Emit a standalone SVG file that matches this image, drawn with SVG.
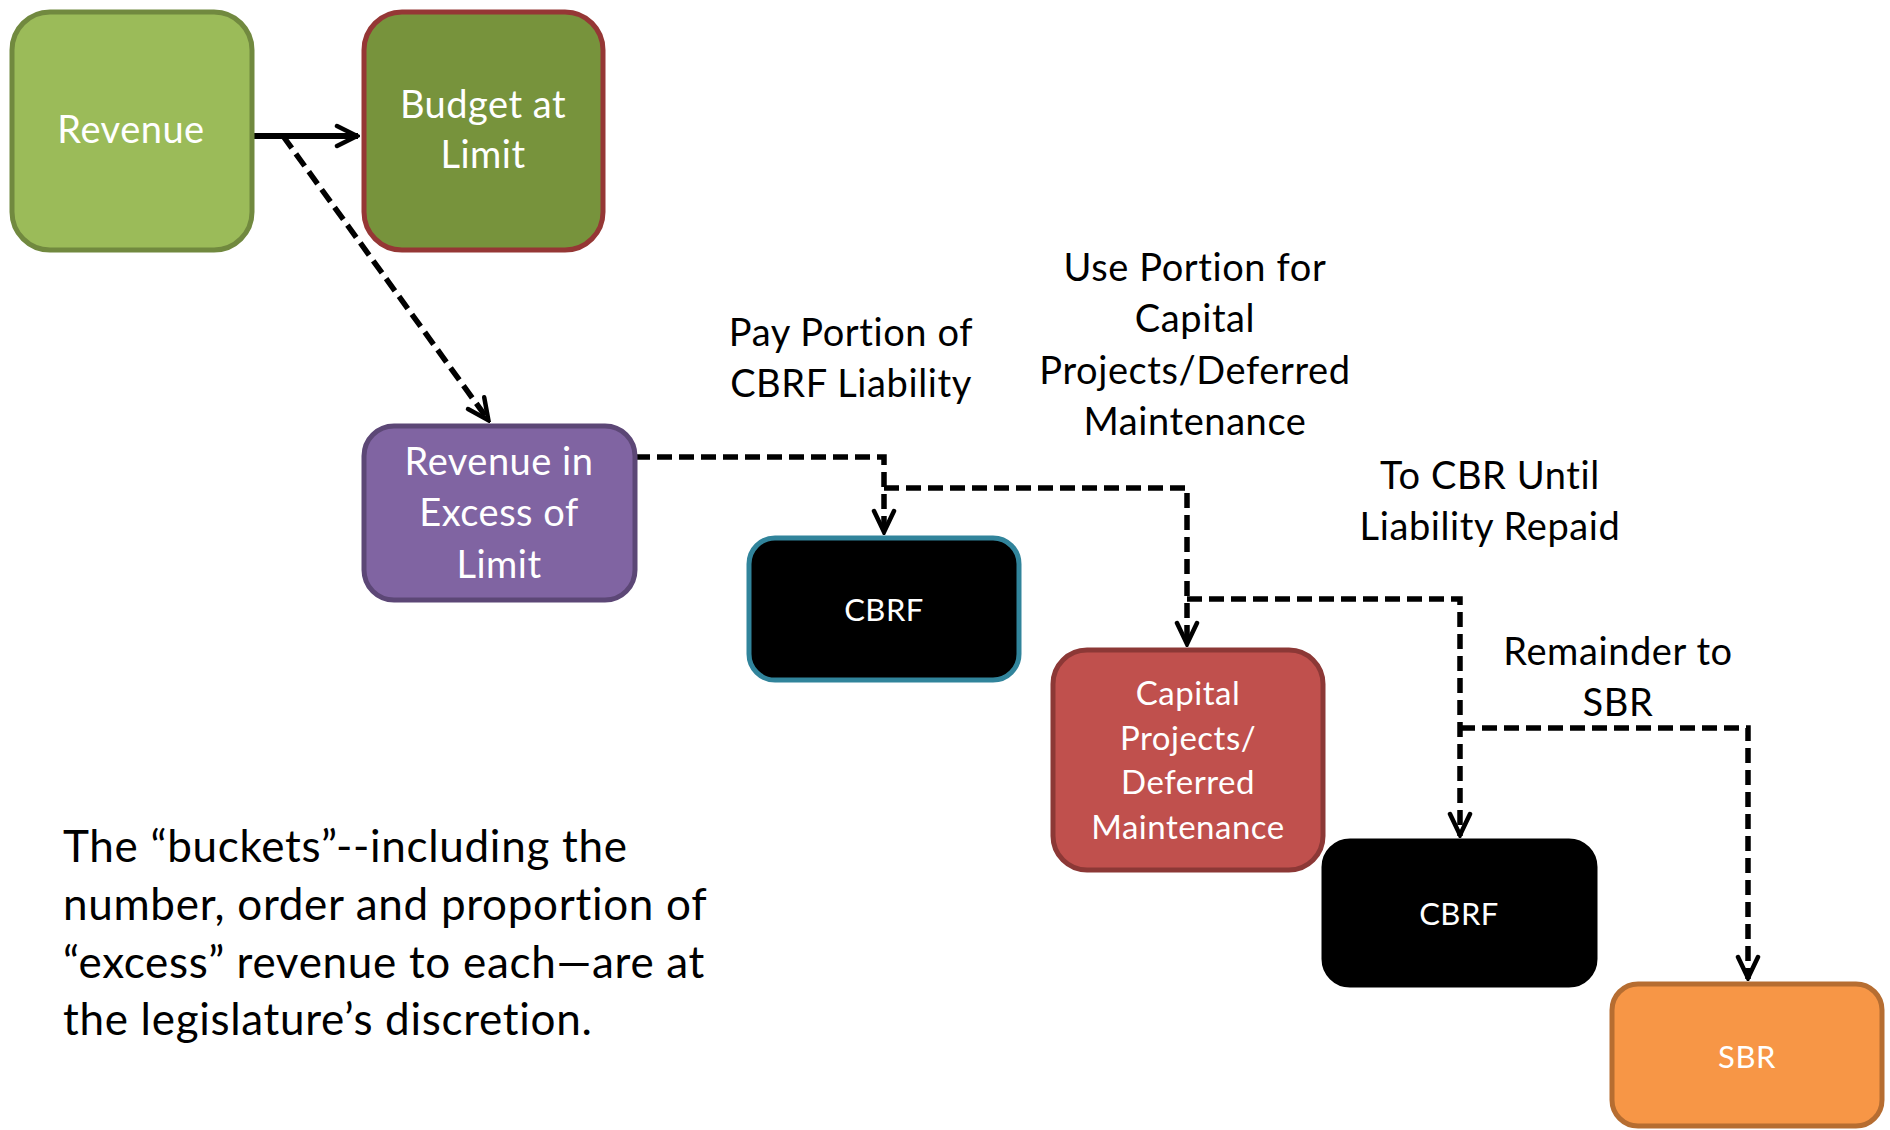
<svg xmlns="http://www.w3.org/2000/svg" width="1890" height="1130" viewBox="0 0 1890 1130">
  <style>
    .box { stroke-width: 5; }
    .nt { font-family: Lato, "Liberation Sans", sans-serif; fill: #ffffff; text-anchor: middle; letter-spacing: 0.5px; }
    .lbl { font-family: Lato, "Liberation Sans", sans-serif; fill: #000000; text-anchor: middle; font-size: 38px; letter-spacing: 0.6px; }
    .note { font-family: Lato, "Liberation Sans", sans-serif; fill: #000000; font-size: 44px; letter-spacing: 0.7px; }
    .solid { fill: none; stroke: #000; stroke-width: 6; }
    .dash { fill: none; stroke: #000; stroke-width: 5.5; stroke-dasharray: 15 7; }
  </style>
  <defs>
    <marker id="arrowL" viewBox="0 0 26 26" refX="24" refY="13" markerWidth="26" markerHeight="26" markerUnits="userSpaceOnUse" orient="auto">
      <path d="M3,3 L23,13 L3,23" fill="none" stroke="#000" stroke-width="4.5" stroke-linecap="round"/>
    </marker>
    <marker id="arrowD" viewBox="0 0 28 28" refX="26" refY="14" markerWidth="28" markerHeight="28" markerUnits="userSpaceOnUse" orient="auto">
      <path d="M4,4 L25,14 L4,24" fill="none" stroke="#000" stroke-width="4.5" stroke-linecap="round"/>
    </marker>
  </defs>
  <rect width="1890" height="1130" fill="#ffffff"/>

  <!-- connectors -->
  <g id="connectors">
    <line class="solid" x1="252" y1="136" x2="358" y2="136" marker-end="url(#arrowL)"/>
    <line class="dash" x1="283" y1="136" x2="489" y2="421" marker-end="url(#arrowD)"/>
    <polyline class="dash" points="635,457 884,457 884,533" marker-end="url(#arrowD)"/>
    <polyline class="dash" points="884,488 1187,488 1187,645" marker-end="url(#arrowD)"/>
    <polyline class="dash" points="1187,599 1460,599 1460,836" marker-end="url(#arrowD)"/>
    <polyline class="dash" points="1460,728 1748,728 1748,979" marker-end="url(#arrowD)"/>
  </g>

  <!-- nodes -->
  <g id="node-revenue">
    <rect class="box" x="12" y="12" width="240" height="238" rx="38" fill="#9BBB59" stroke="#71893F"/>
    <text class="nt" x="131" y="143" font-size="38">Revenue</text>
  </g>
  <g id="node-budget">
    <rect class="box" x="364" y="12" width="239" height="238" rx="38" fill="#77933C" stroke="#953735"/>
    <text class="nt" x="483" y="118" font-size="38">Budget at</text>
    <text class="nt" x="483" y="168" font-size="38">Limit</text>
  </g>
  <g id="node-excess">
    <rect class="box" x="364" y="426" width="271" height="174" rx="30" fill="#8064A2" stroke="#5C4776"/>
    <text class="nt" x="499" y="475" font-size="38">Revenue in</text>
    <text class="nt" x="499" y="526" font-size="38">Excess of</text>
    <text class="nt" x="499" y="578" font-size="38">Limit</text>
  </g>
  <g id="node-cbrf1">
    <rect class="box" x="749" y="538" width="270" height="142" rx="26" fill="#000000" stroke="#31849B"/>
    <text class="nt" x="884" y="621" font-size="31">CBRF</text>
  </g>
  <g id="node-capital">
    <rect class="box" x="1053" y="650" width="270" height="220" rx="34" fill="#C0504D" stroke="#8C3836"/>
    <text class="nt" x="1188" y="705" font-size="33">Capital</text>
    <text class="nt" x="1188" y="750" font-size="33">Projects/</text>
    <text class="nt" x="1188" y="794" font-size="33">Deferred</text>
    <text class="nt" x="1188" y="839" font-size="33">Maintenance</text>
  </g>
  <g id="node-cbrf2">
    <rect class="box" x="1324" y="841" width="271" height="144" rx="26" fill="#000000" stroke="#000000"/>
    <text class="nt" x="1459" y="925" font-size="31">CBRF</text>
  </g>
  <g id="node-sbr">
    <rect class="box" x="1612" y="984" width="270" height="142" rx="26" fill="#F79646" stroke="#B66D31"/>
    <text class="nt" x="1747" y="1068" font-size="31">SBR</text>
  </g>

  <!-- connector labels -->
  <g id="labels">
    <text class="lbl" x="851" y="346">Pay Portion of</text>
    <text class="lbl" x="851" y="397">CBRF Liability</text>
    <text class="lbl" x="1195" y="281">Use Portion for</text>
    <text class="lbl" x="1195" y="332">Capital</text>
    <text class="lbl" x="1195" y="384">Projects/Deferred</text>
    <text class="lbl" x="1195" y="435">Maintenance</text>
    <text class="lbl" x="1490" y="489">To CBR Until</text>
    <text class="lbl" x="1490" y="540">Liability Repaid</text>
    <text class="lbl" x="1618" y="665">Remainder to</text>
    <text class="lbl" x="1618" y="716">SBR</text>
  </g>

  <!-- note -->
  <g id="note">
    <text class="note" x="63" y="862">The “buckets”--including the</text>
    <text class="note" x="63" y="920">number, order and proportion of</text>
    <text class="note" x="63" y="978">“excess” revenue to each—are at</text>
    <text class="note" x="63" y="1035">the legislature’s discretion.</text>
  </g>
</svg>
